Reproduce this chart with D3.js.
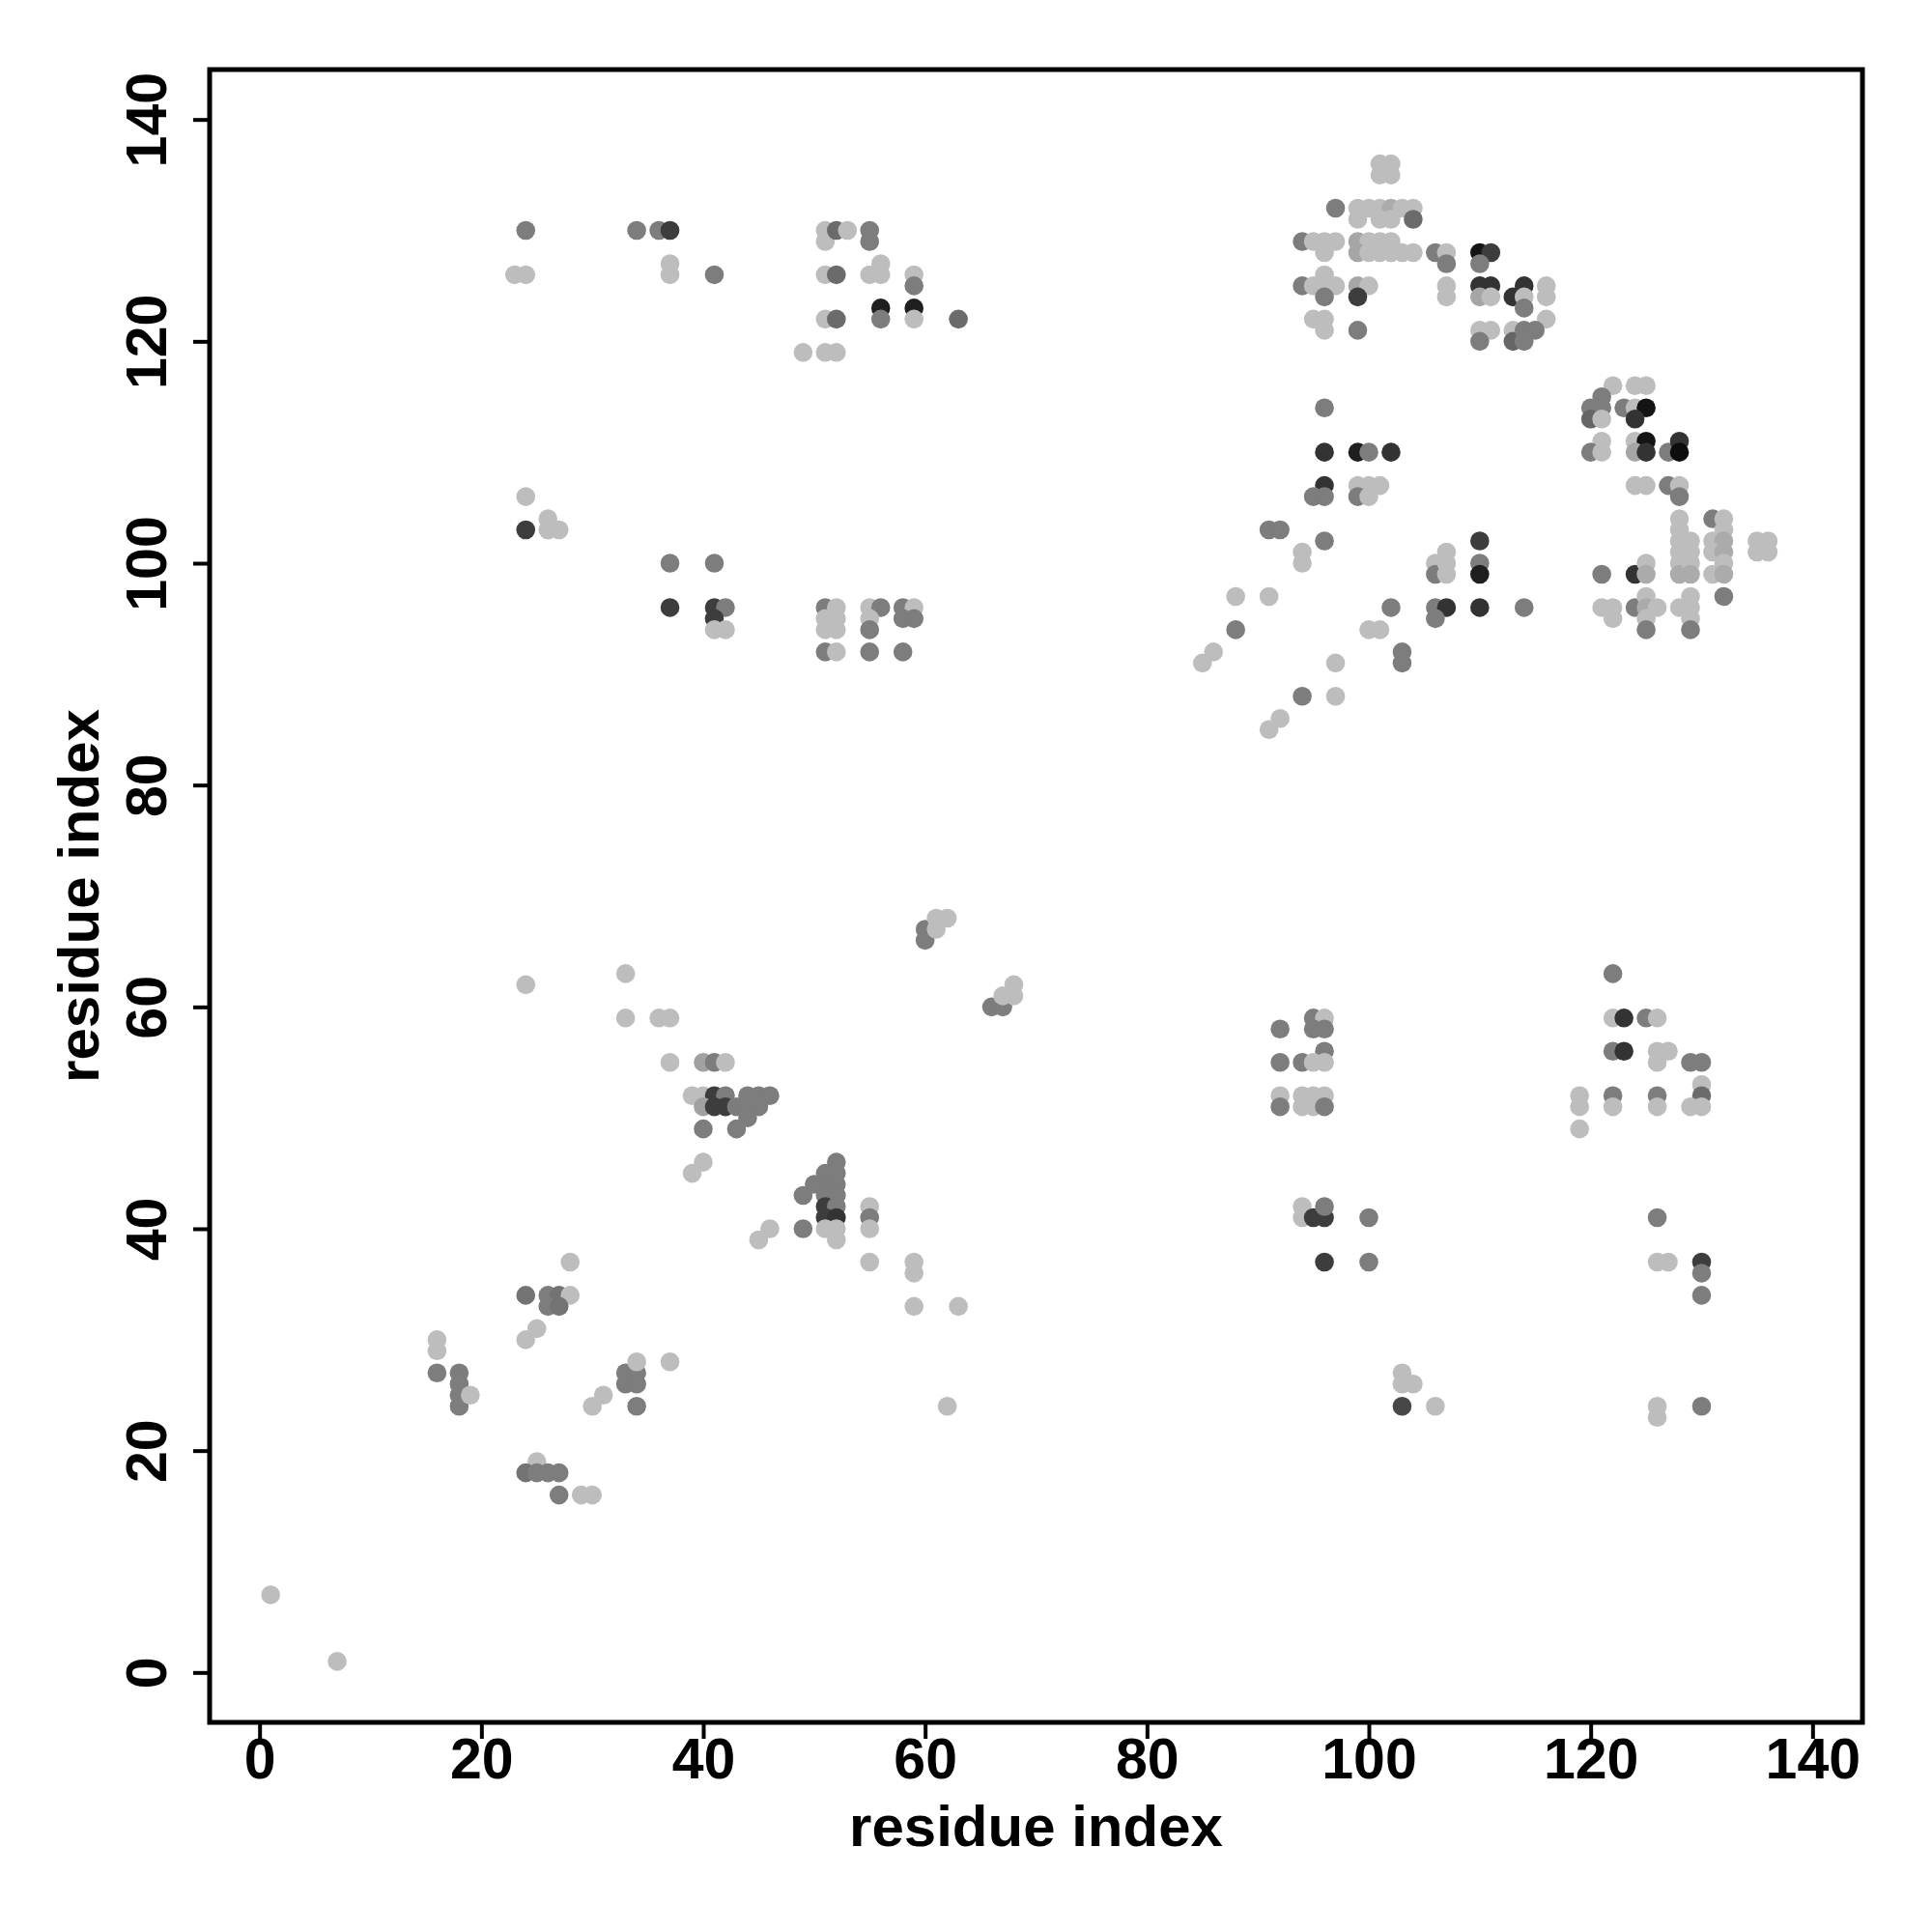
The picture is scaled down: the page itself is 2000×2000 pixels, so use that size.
<!DOCTYPE html>
<html>
<head>
<meta charset="utf-8">
<script src="https://cdn.jsdelivr.net/npm/d3@7"></script>
<style>
  html, body { margin: 0; padding: 0; background: #ffffff; }
  svg { display: block; }
</style>
</head>
<body>
<script>
// ---- data (residue i, residue j, contact score 0..1) ----
const contactX = [
  1,7,
  16,16,16,18,18,18,18,19,
  24,26,27,28,26,27,28,25,24,
  33,34,33,34,34,34,37,31,30,
  25,24,25,26,27,27,29,30,
  24,33,33,36,37,37,40,41,42,
  39,40,41,42,44,45,46,
  40,41,42,43,44,45,44,40,43,40,39,
  52,51,52,50,51,52,49,51,52,
  51,52,51,52,49,51,52,52,
  55,55,55,46,45,55,59,59,59,63,62,
  60,60,61,62,61,66,67,67,68,68,
  92,95,96,95,96,96,92,94,95,96,
  92,92,94,95,96,94,95,96,
  94,94,95,96,96,100,96,100,
  103,103,104,103,106,
  122,122,123,125,126,122,123,126,127,126,
  129,130,130,130,129,130,126,126,122,122,119,119,119,
  126,126,127,130,130,130,126,126,130,
  24,23,24,34,36,37,37,37,41,
  51,51,52,53,55,55,56,55,56,51,52,
  59,59,56,56,59,59,63,51,52,49,51,52,
  24,24,26,26,27,37,41,37,41,42,41,41,42,
  51,52,51,52,51,52,51,52,
  55,56,55,55,55,58,59,58,59,58,
  101,102,101,102,
  97,99,100,101,102,103,104,99,101,102,104,
  94,95,96,97,99,100,101,102,
  96,99,100,101,102,103,104,106,
  94,95,96,97,96,96,99,100,99,
  95,96,96,99,
  107,107,110,111,110,107,107,110,111,110,111,
  113,114,114,114,116,116,116,
  110,111,110,113,113,114,115,114,
  96,96,99,100,102,96,95,96,99,100,101,99,100,
  91,92,96,94,94,88,91,88,86,85,97,94,97,92,91,
  102,100,101,103,103,
  106,106,107,107,107,106,107,106,
  110,110,110,110,114,
  122,124,125,121,120,121,120,121,123,124,125,124,
  121,120,121,124,125,124,125,127,128,128,
  124,125,127,128,128,
  128,128,128,128,128,128,129,129,129,129,
  131,132,132,131,132,131,132,132,131,132,
  132,135,136,135,136,
  121,124,125,125,
  121,122,122,124,125,125,126,125,125,
  128,129,129,129,129
];
const contactY = [
  7,1,
  30,29,27,27,26,25,24,25,
  34,34,34,34,33,33,37,31,30,
  27,27,26,26,24,28,28,25,24,
  19,18,18,18,18,16,16,16,
  62,63,59,59,59,55,55,55,55,
  52,52,52,52,52,52,52,
  51,51,51,51,51,51,50,49,49,46,45,
  46,45,45,44,44,44,43,43,43,
  42,42,41,41,40,40,40,39,
  42,41,40,40,39,37,37,36,33,33,24,
  67,66,68,68,67,60,60,61,61,62,
  58,59,59,58,58,56,55,55,55,55,
  52,51,52,52,52,51,51,51,
  42,41,41,41,42,41,37,37,
  27,26,26,24,24,
  63,59,59,59,59,56,56,56,56,55,
  55,55,53,52,51,51,52,51,52,51,52,51,49,
  41,37,37,37,36,34,24,23,24,
  130,126,126,130,130,130,127,126,126,
  130,129,130,130,130,129,127,126,126,126,126,
  126,125,123,122,123,122,122,122,122,119,119,119,
  106,103,104,103,103,100,100,96,96,96,95,94,94,
  96,96,95,95,94,94,92,92,
  96,96,95,94,92,96,96,95,95,92,
  136,136,135,135,
  132,132,132,132,132,132,132,131,131,131,131,
  129,129,129,129,129,129,129,129,
  128,128,128,128,128,128,128,128,
  125,125,125,125,126,124,125,125,124,
  122,122,121,121,
  128,127,128,128,127,125,124,125,125,124,124,
  124,125,124,123,125,124,122,
  121,121,120,121,120,121,121,120,
  114,110,110,110,110,107,106,106,107,107,107,106,106,
  103,103,102,101,100,97,97,94,92,91,91,88,88,86,85,
  96,94,94,92,91,
  100,99,101,100,99,96,96,95,
  102,100,99,96,96,
  116,116,116,115,114,114,113,113,114,114,114,113,
  111,110,110,111,111,110,110,110,111,110,
  107,107,107,107,106,
  104,103,102,101,100,99,102,101,100,99,
  104,104,103,102,102,101,101,100,99,99,
  97,102,102,101,101,
  99,99,100,99,
  96,96,95,96,97,96,96,95,94,
  96,97,96,95,94
];
const contactScore = [
  0.26,0.26,
  0.26,0.26,0.51,0.51,0.51,0.51,0.51,0.26,
  0.55,0.51,0.55,0.26,0.51,0.55,0.26,0.26,0.26,
  0.51,0.51,0.51,0.51,0.51,0.26,0.26,0.26,0.26,
  0.26,0.55,0.51,0.51,0.51,0.51,0.26,0.26,
  0.26,0.26,0.26,0.26,0.26,0.26,0.37,0.51,0.26,
  0.26,0.26,0.76,0.51,0.51,0.51,0.51,
  0.37,0.76,0.76,0.51,0.51,0.51,0.51,0.51,0.51,0.26,0.26,
  0.51,0.51,0.51,0.51,0.51,0.51,0.51,0.51,0.51,
  0.76,0.51,0.76,0.8,0.51,0.26,0.26,0.26,
  0.26,0.51,0.26,0.26,0.26,0.26,0.26,0.26,0.26,0.26,0.26,
  0.51,0.51,0.26,0.26,0.26,0.51,0.51,0.26,0.26,0.26,
  0.51,0.51,0.26,0.51,0.51,0.51,0.51,0.51,0.26,0.26,
  0.26,0.51,0.26,0.26,0.26,0.26,0.26,0.51,
  0.26,0.26,0.76,0.76,0.51,0.51,0.76,0.51,
  0.26,0.26,0.26,0.72,0.26,
  0.51,0.26,0.8,0.51,0.26,0.51,0.8,0.26,0.26,0.26,
  0.51,0.51,0.26,0.58,0.26,0.26,0.51,0.26,0.51,0.26,0.26,0.26,0.26,
  0.51,0.26,0.26,0.76,0.51,0.51,0.26,0.26,0.51,
  0.51,0.26,0.26,0.51,0.51,0.76,0.26,0.26,0.51,
  0.26,0.26,0.58,0.26,0.51,0.51,0.26,0.26,0.26,0.26,0.58,
  0.26,0.51,0.88,0.51,0.88,0.26,0.58,0.26,0.58,0.26,0.26,0.26,
  0.26,0.76,0.26,0.26,0.26,0.51,0.51,0.76,0.76,0.51,0.76,0.26,0.26,
  0.51,0.26,0.26,0.26,0.26,0.26,0.51,0.26,
  0.26,0.51,0.26,0.51,0.51,0.51,0.26,0.51,0.51,0.51,
  0.26,0.26,0.26,0.26,
  0.51,0.26,0.26,0.26,0.33,0.26,0.26,0.26,0.26,0.26,0.58,
  0.51,0.26,0.26,0.26,0.35,0.26,0.26,0.26,
  0.26,0.35,0.26,0.26,0.26,0.26,0.26,0.51,
  0.51,0.26,0.26,0.26,0.26,0.51,0.35,0.26,0.76,
  0.26,0.26,0.26,0.51,
  0.26,0.51,0.92,0.76,0.51,0.26,0.26,0.8,0.8,0.35,0.26,
  0.8,0.8,0.26,0.51,0.26,0.26,0.26,
  0.26,0.26,0.51,0.26,0.6,0.51,0.51,0.51,
  0.51,0.8,0.88,0.51,0.8,0.8,0.51,0.51,0.26,0.26,0.26,0.51,0.26,
  0.51,0.51,0.51,0.26,0.26,0.26,0.26,0.51,0.26,0.26,0.26,0.51,0.26,0.26,0.26,
  0.51,0.26,0.26,0.51,0.51,
  0.26,0.51,0.26,0.26,0.26,0.51,0.8,0.51,
  0.76,0.51,0.88,0.8,0.51,
  0.26,0.26,0.26,0.51,0.51,0.51,0.6,0.26,0.51,0.26,0.92,0.8,
  0.26,0.51,0.26,0.26,0.92,0.35,0.8,0.51,0.8,0.95,
  0.26,0.26,0.51,0.26,0.51,
  0.26,0.26,0.26,0.26,0.26,0.33,0.26,0.26,0.26,0.33,
  0.51,0.26,0.26,0.26,0.33,0.26,0.33,0.26,0.26,0.33,
  0.51,0.26,0.26,0.26,0.26,
  0.51,0.8,0.26,0.33,
  0.26,0.26,0.26,0.51,0.26,0.33,0.26,0.26,0.51,
  0.26,0.26,0.26,0.26,0.51
];
const tickValues = [0, 20, 40, 60, 80, 100, 120, 140];
const axisTitleX = "residue index";
const axisTitleY = "residue index";

// ---- drawing ----
const W = 2000, H = 2000;
const font = "'Liberation Sans', Arial, Helvetica, sans-serif";
const box = { left: 217, right: 1928, top: 72, bottom: 1783 };

const svg = d3.select("body").append("svg")
  .attr("width", W).attr("height", H)
  .attr("viewBox", `0 0 ${W} ${H}`);
svg.append("rect").attr("width", W).attr("height", H).attr("fill", "#ffffff");

const x = d3.scaleLinear().domain([-4.5, 144.5]).range([box.left, box.right]);
const y = d3.scaleLinear().domain([-4.5, 144.5]).range([box.bottom, box.top]);
const shade = d3.scaleLinear().domain([0, 1]).range(["#ffffff", "#000000"]);

const pts = contactX.map((v, i) => ({ x: v, y: contactY[i], s: contactScore[i] }));

svg.append("g").selectAll("circle")
  .data(pts)
  .join("circle")
  .attr("cx", d => x(d.x))
  .attr("cy", d => y(d.y))
  .attr("r", 9.8)
  .attr("fill", d => shade(d.s));

// axes
const xAxis = svg.append("g")
  .attr("transform", `translate(0,${box.bottom})`)
  .call(d3.axisBottom(x).tickValues(tickValues).tickSize(17).tickFormat(d3.format("d")));
xAxis.select(".domain").remove();
xAxis.selectAll("line").attr("stroke", "#000").attr("stroke-width", 4);
xAxis.selectAll("text")
  .attr("y", 58).attr("dy", null)
  .attr("font-family", font).attr("font-weight", "bold")
  .attr("font-size", 59).attr("fill", "#000");

const yAxis = svg.append("g")
  .attr("transform", `translate(${box.left},0)`)
  .call(d3.axisLeft(y).tickValues(tickValues).tickSize(17).tickFormat(d3.format("d")));
yAxis.select(".domain").remove();
yAxis.selectAll("line").attr("stroke", "#000").attr("stroke-width", 4);
yAxis.selectAll("text")
  .attr("x", 0).attr("y", -45).attr("dy", null)
  .attr("transform", "rotate(-90)")
  .attr("text-anchor", "middle")
  .attr("font-family", font).attr("font-weight", "bold")
  .attr("font-size", 59).attr("fill", "#000");
yAxis.attr("font-size", null).attr("font-family", null);
xAxis.attr("font-size", null).attr("font-family", null);

// box
svg.append("rect")
  .attr("x", box.left).attr("y", box.top)
  .attr("width", box.right - box.left).attr("height", box.bottom - box.top)
  .attr("fill", "none").attr("stroke", "#000").attr("stroke-width", 5);

// titles
svg.append("text")
  .attr("x", (box.left + box.right) / 2).attr("y", 1911)
  .attr("text-anchor", "middle")
  .attr("font-family", font).attr("font-weight", "bold").attr("font-size", 60)
  .text(axisTitleX);
svg.append("text")
  .attr("transform", `translate(102,${(box.top + box.bottom) / 2}) rotate(-90)`)
  .attr("text-anchor", "middle")
  .attr("font-family", font).attr("font-weight", "bold").attr("font-size", 60)
  .text(axisTitleY);
</script>
</body>
</html>
